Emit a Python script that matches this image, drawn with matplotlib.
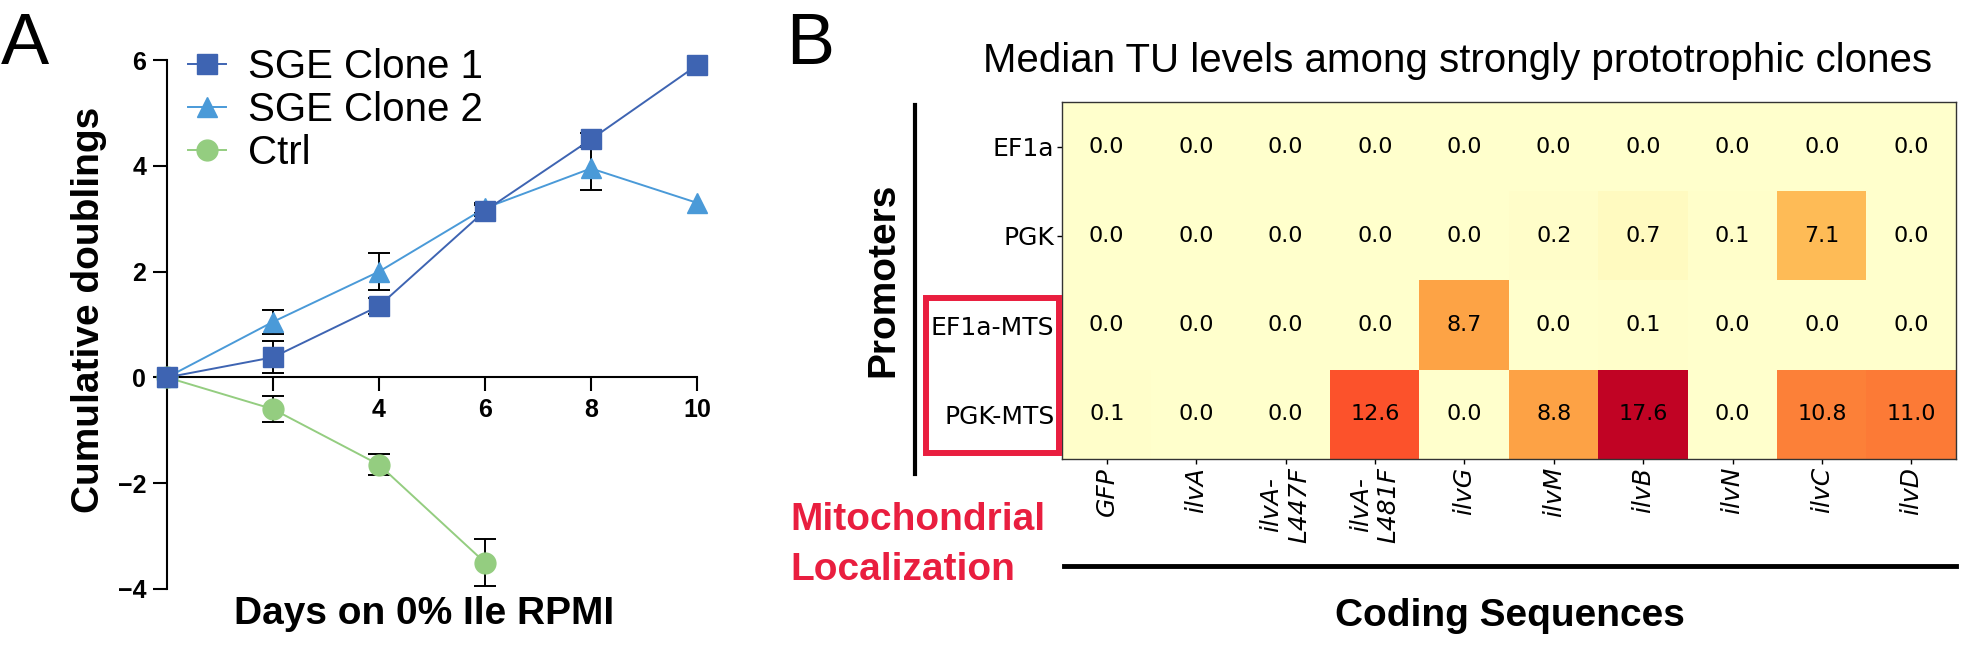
import numpy as np
import matplotlib
matplotlib.use("Agg")
import matplotlib.pyplot as plt
from matplotlib.lines import Line2D
from matplotlib.patches import Rectangle

plt.rcParams['font.family'] = ['Liberation Sans', 'DejaVu Sans']

# ---- panel A data ----
days = [0, 2, 4, 6, 8, 10]
clone1 = [0, 0.38, 1.35, 3.15, 4.5, 5.9]
clone1_err = [0, 0.3, 0.15, 0.1, 0.12, 0]
clone2 = [0, 1.05, 2.0, 3.2, 3.95, 3.3]
clone2_err = [0, 0.23, 0.35, 0.1, 0.4, 0]
ctrl_days = [0, 2, 4, 6]
ctrl = [0, -0.6, -1.65, -3.5]
ctrl_err = [0, 0.25, 0.2, 0.45]

# ---- panel B data ----
promoters = ['EF1a', 'PGK', 'EF1a-MTS', 'PGK-MTS']
coding = ['GFP', 'ilvA', 'ilvA-\nL447F', 'ilvA-\nL481F', 'ilvG',
          'ilvM', 'ilvB', 'ilvN', 'ilvC', 'ilvD']
tu_ef1a = [0.0, 0.0, 0.0, 0.0, 0.0, 0.0, 0.0, 0.0, 0.0, 0.0]
tu_pgk = [0.0, 0.0, 0.0, 0.0, 0.0, 0.2, 0.7, 0.1, 7.1, 0.0]
tu_ef1a_mts = [0.0, 0.0, 0.0, 0.0, 8.7, 0.0, 0.1, 0.0, 0.0, 0.0]
tu_pgk_mts = [0.1, 0.0, 0.0, 12.6, 0.0, 8.8, 17.6, 0.0, 10.8, 11.0]

W, H = 1962, 651
def fx(x):
    return x / W
def fy(y):
    return 1 - y / H

fig = plt.figure(figsize=(W / 100, H / 100), dpi=100)

# ================= panel A =================
axA = fig.add_axes([fx(167), fy(589), (697 - 167) / W, (589 - 60) / H])
c1, c2, c3 = '#3e64b2', '#4a9ad8', '#94cd80'

# error bars only where there is an error (no caps on the zero points)
for x, y, e in [(days, clone2, clone2_err), (days, clone1, clone1_err),
                (ctrl_days, ctrl, ctrl_err)]:
    keep = [i for i in range(len(x)) if e[i] > 0]
    axA.errorbar([x[i] for i in keep], [y[i] for i in keep],
                 yerr=[e[i] for i in keep], fmt='none', ecolor='black',
                 elinewidth=1.4, capsize=8, capthick=1.4, zorder=2,
                 clip_on=False)

axA.plot(days, clone2, '-^', color=c2, ms=15, lw=1.4, zorder=3,
         clip_on=False, label='SGE Clone 2')
axA.plot(days, clone1, '-s', color=c1, ms=15, lw=1.4, zorder=4,
         clip_on=False, label='SGE Clone 1')
axA.plot(ctrl_days, ctrl, '-o', color=c3, ms=15, lw=1.4, zorder=3,
         clip_on=False, label='Ctrl')

axA.set_xlim(0, 10)
axA.set_ylim(-4, 6)
axA.spines['top'].set_visible(False)
axA.spines['right'].set_visible(False)
axA.spines['bottom'].set_position(('data', 0))
for s in ['left', 'bottom']:
    axA.spines[s].set_linewidth(1.5)
axA.set_xticks([2, 4, 6, 8, 10])
axA.set_xticklabels(['', '4', '6', '8', '10'])
axA.set_yticks([-4, -2, 0, 2, 4, 6])
axA.tick_params(length=10, width=1.5, labelsize=18, pad=5)
for lab in axA.get_xticklabels() + axA.get_yticklabels():
    lab.set_fontweight('bold')

h, l = axA.get_legend_handles_labels()
order = [1, 0, 2]
axA.legend([h[i] for i in order], [l[i] for i in order], loc='upper left',
           bbox_to_anchor=(fx(188), fy(48)), bbox_transform=fig.transFigure,
           frameon=False, fontsize=29, borderpad=0, borderaxespad=0,
           handlelength=0.95, handletextpad=0.55, labelspacing=0.12)

fig.text(fx(99), fy(310), 'Cumulative doublings', rotation=90,
         rotation_mode='anchor', ha='center', va='baseline',
         fontsize=28, fontweight='bold')
fig.text(fx(424), fy(624), 'Days on 0% Ile RPMI', ha='center',
         va='baseline', fontsize=28, fontweight='bold')
fig.text(fx(1), fy(64), 'A', ha='left', va='baseline', fontsize=52)
fig.text(fx(786), fy(64), 'B', ha='left', va='baseline', fontsize=52)

# ================= panel B =================
tu = np.array([tu_ef1a, tu_pgk, tu_ef1a_mts, tu_pgk_mts])
axB = fig.add_axes([fx(1062), fy(459), 894 / W, 357 / H])
axB.imshow(tu, cmap='YlOrRd', vmin=0, vmax=20.5, aspect='auto',
           interpolation='nearest')
for i in range(tu.shape[0]):
    for j in range(tu.shape[1]):
        axB.text(j, i, f'{tu[i, j]:.1f}', ha='center', va='center',
                 fontsize=16, family='DejaVu Sans', color='black')

axB.set_xticks(range(len(coding)))
axB.set_xticklabels(coding, rotation=90, ha='center', va='top',
                    fontsize=18, family='DejaVu Sans', fontstyle='italic')
axB.set_yticks(range(len(promoters)))
axB.set_yticklabels(promoters, fontsize=18, family='DejaVu Sans')
axB.tick_params(length=3.5, width=1, pad=2)
for s in axB.spines.values():
    s.set_linewidth(1)
    s.set_color('#333333')

fig.text(fx(1458), fy(72), 'Median TU levels among strongly prototrophic clones',
         ha='center', va='baseline', fontsize=29)
fig.text(fx(893), fy(280), 'Promoters', rotation=90, rotation_mode='anchor',
         ha='center', va='baseline', fontsize=28, fontweight='bold')
fig.text(fx(1510), fy(626), 'Coding Sequences', ha='center', va='baseline',
         fontsize=28, fontweight='bold')
red = '#e91e3f'
fig.text(fx(790), fy(530), 'Mitochondrial', ha='left', va='baseline',
         fontsize=28, fontweight='bold', color=red)
fig.text(fx(790), fy(580), 'Localization', ha='left', va='baseline',
         fontsize=28, fontweight='bold', color=red)

fig.add_artist(Line2D([fx(915), fx(915)], [fy(105), fy(474)], color='black',
                      lw=3, transform=fig.transFigure))
fig.add_artist(Line2D([fx(1064), fx(1956)], [fy(566), fy(566)], color='black',
                      lw=3.5, transform=fig.transFigure))
fig.add_artist(Rectangle((fx(926), fy(453)), (1059 - 926) / W, (453 - 298) / H,
                         fill=False, ec=red, lw=4.3, transform=fig.transFigure))

fig.savefig('out.png', dpi=100)
